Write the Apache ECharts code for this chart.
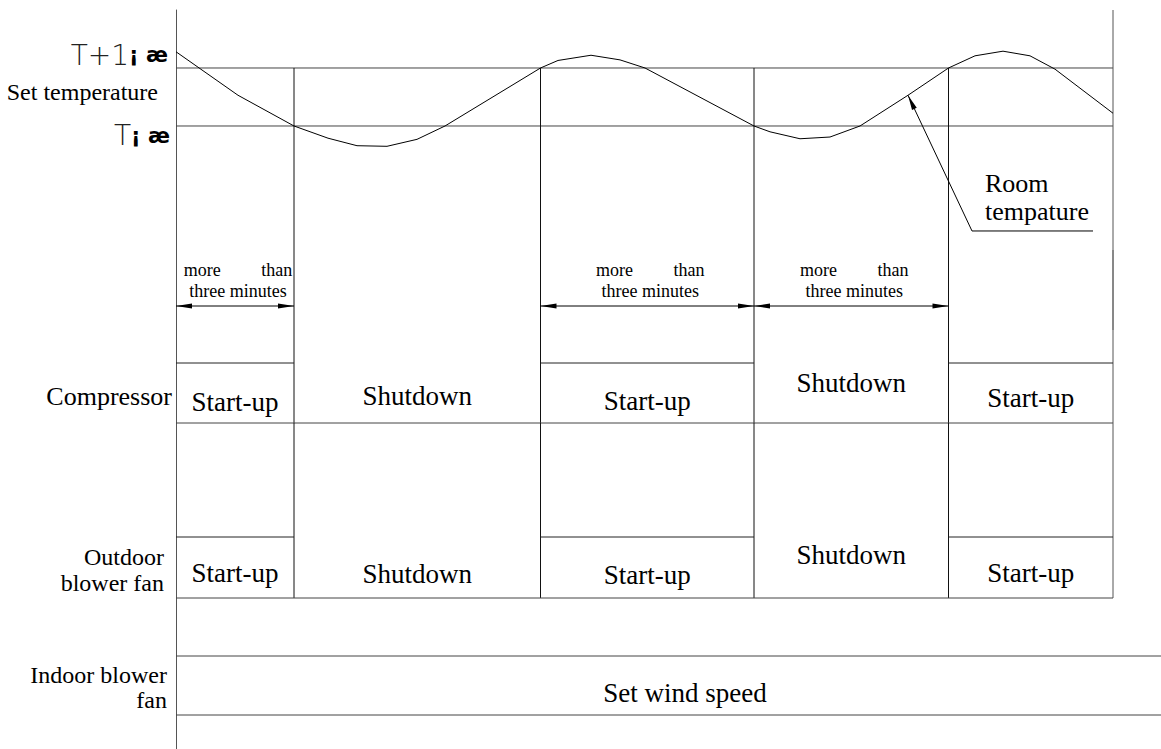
<!DOCTYPE html>
<html><head><meta charset="utf-8">
<script src="https://cdn.jsdelivr.net/npm/echarts@6/dist/echarts.min.js"></script>
<style>html,body{margin:0;padding:0;background:#fff}#c{width:1161px;height:749px}</style>
</head><body><div id="c"></div>
<script>
// ================= DATA =================
// phase boundaries on the time axis (arbitrary time units)
const timeBounds = [0, 11.8, 36.45, 57.8, 77.25, 93.7];
const timeMax = 98.5;
// states per phase: 1 = Start-up, 0 = Shutdown
const compressorState = [1, 0, 1, 0, 1];
const outdoorFanState = [1, 0, 1, 0, 1];
const stateText = ['Shutdown', 'Start-up'];
// temperature reference levels (offset from set temperature T, °C)
const tempLevels = [0, 1];
const tempLevelLabels = ['T', 'T+1'];
const tempUnitText = '¡ æ';
// room temperature curve (time, offset from T)
const roomTempTime  = [0, 6.2, 11.8, 15.2, 18.1, 21.1, 24.1, 26.9, 36.45, 38.2, 41.5, 44.4, 46.9, 57.8, 59.4, 62.4, 65.4, 68.4, 73.2, 77.25, 79.9, 82.7, 85.4, 87.9, 93.7];
const roomTempValue = [1.28, 0.53, 0, -0.21, -0.34, -0.35, -0.23, 0, 1, 1.13, 1.22, 1.14, 1.0, 0, -0.1, -0.22, -0.19, 0, 0.53, 1, 1.21, 1.29, 1.21, 0.98, 0.22];
// "more than three minutes" spans, as [from, to] indices into timeBounds
const delaySpans = [[0, 1], [2, 3], [3, 4]];
const delayWords = ['more', 'than', 'three minutes'];
const rowNames = ['Set temperature', 'Compressor', 'Outdoor\nblower fan', 'Indoor blower\nfan'];
const indoorText = 'Set wind speed';
const roomTempNote = 'Room\ntempature';

// ================= LAYOUT / STYLE =================
const SERIF = '"Liberation Serif", "Times New Roman", Times, serif';
const AXIS = '#555';
const grids = [
  {top: 10,  height: 240, min: -2.138, max: 2},     // temperature
  {top: 250, height: 80,  min: 0, max: 1},          // delay dimension row
  {top: 330, height: 93,  min: 0, max: 1.55},       // compressor
  {top: 423, height: 175, min: 0, max: 2.869},      // outdoor fan
  {top: 598, height: 151, min: -0.576, max: 1.983}  // indoor fan
];
const compLabelLevel = [0.35, 0.45, 0.367, 0.675, 0.425];
const outLabelLevel  = [0.41, 0.39, 0.377, 0.705, 0.418];
const noteAnchorIdx = 18, noteElbow = [79.6, -1.81], noteEnd = 91.7, noteTextPos = [80.9, -1.23];
const delayLevel = 0.3;

const endT = timeBounds[timeBounds.length - 1];
const inner = timeBounds.slice(1, -1);

function segSeries(g, segs, color, width) {
  return {type: 'custom', xAxisIndex: g, yAxisIndex: g, silent: true, clip: false, z: 3,
    data: segs, encode: {x: [0, 2], y: [1, 3]},
    renderItem(params, api) {
      const a = api.coord([api.value(0), api.value(1)]);
      const b = api.coord([api.value(2), api.value(3)]);
      return {type: 'line', shape: {x1: a[0], y1: a[1], x2: b[0], y2: b[1]},
        style: {stroke: color, lineWidth: width || 1}};
    }};
}
function textSeries(g, items) {
  return {type: 'custom', xAxisIndex: g, yAxisIndex: g, silent: true, clip: false, z: 4,
    data: items.map(it => it.at), encode: {x: 0, y: 1},
    renderItem(params, api) {
      const it = items[params.dataIndex];
      const p = api.coord([api.value(0), api.value(1)]);
      const off = it.offset || [0, 0];
      return {type: 'text', x: p[0] + off[0], y: p[1] + off[1],
        style: Object.assign({text: it.text, fill: '#000', fontFamily: SERIF, fontSize: 26,
          align: 'center', verticalAlign: 'middle'}, it.style || {})};
    }};
}
function arrowHead(tip, from, len, half) {
  const dx = tip[0] - from[0], dy = tip[1] - from[1];
  const L = Math.hypot(dx, dy) || 1, ux = dx / L, uy = dy / L;
  const bx = tip[0] - ux * len, by = tip[1] - uy * len;
  return {type: 'polygon', shape: {points: [tip, [bx - uy * half, by + ux * half], [bx + uy * half, by - ux * half]]},
    style: {fill: '#000'}};
}

const series = [];
// ---- G0 temperature ----
series.push(segSeries(0, tempLevels.map(v => [0, v, endT, v]), '#444'));
series.push(segSeries(0, inner.map(t => [t, 1, t, grids[0].min]), '#111'));
series.push(segSeries(0, [[endT, grids[0].max, endT, grids[0].min]], AXIS));
series.push({type: 'line', xAxisIndex: 0, yAxisIndex: 0, silent: true, symbol: 'none', z: 5,
  data: roomTempTime.map((t, i) => [t, roomTempValue[i]]),
  lineStyle: {color: '#000', width: 1}});
series.push({type: 'custom', xAxisIndex: 0, yAxisIndex: 0, silent: true, clip: false, z: 5,
  data: [[roomTempTime[noteAnchorIdx], roomTempValue[noteAnchorIdx], noteElbow[0], noteElbow[1], noteEnd]],
  encode: {x: [0, 2, 4], y: [1, 3]},
  renderItem(params, api) {
    const tip = api.coord([api.value(0), api.value(1)]);
    const elb = api.coord([api.value(2), api.value(3)]);
    const end = api.coord([api.value(4), api.value(3)]);
    return {type: 'group', children: [
      {type: 'polyline', shape: {points: [tip, elb, end]}, style: {stroke: '#000', lineWidth: 1, fill: null}},
      arrowHead(tip, elb, 15, 2.6)
    ]};
  }});
const tRich = {
  a: {fontFamily: '"DejaVu Sans"', fontWeight: 200, fontSize: 28, fill: '#222'},
  b: {fontFamily: '"DejaVu Sans"', fontWeight: 'bold', fontSize: 21, fill: '#000'}
};
series.push(textSeries(0, [
  {at: [0, 1.224], text: '{a|' + tempLevelLabels[1] + '}{b|' + tempUnitText + '}', offset: [-8, 0],
    style: {align: 'right', rich: tRich}},
  {at: [0, -0.172], text: '{a|' + tempLevelLabels[0] + '}{b|' + tempUnitText + '}', offset: [-6, 0],
    style: {align: 'right', rich: tRich}},
  {at: [0, 0.586], text: rowNames[0], offset: [-18, 0], style: {align: 'right', fontSize: 24}},
  {at: noteTextPos, text: roomTempNote, style: {align: 'left', fontSize: 26, lineHeight: 28}}
]));
// ---- G1 delay dimensions ----
series.push(segSeries(1, inner.concat([endT]).map(t => [t, 0, t, 1]), '#111'));
series.push({type: 'custom', xAxisIndex: 1, yAxisIndex: 1, silent: true, clip: false, z: 5,
  data: delaySpans.map(s => [timeBounds[s[0]], delayLevel, timeBounds[s[1]], delayLevel]),
  encode: {x: [0, 2], y: [1, 3]},
  renderItem(params, api) {
    const a = api.coord([api.value(0), api.value(1)]);
    const b = api.coord([api.value(2), api.value(3)]);
    const nb = '\u00a0'.repeat(9);
    return {type: 'group', children: [
      {type: 'line', shape: {x1: a[0], y1: a[1], x2: b[0], y2: b[1]}, style: {stroke: '#000', lineWidth: 1}},
      arrowHead(a, b, 16, 2.5), arrowHead(b, a, 16, 2.5),
      {type: 'text', x: (a[0] + b[0]) / 2 + 3, y: a[1] - 5,
        style: {text: delayWords[0] + nb + delayWords[1] + '\n' + delayWords[2], fontFamily: SERIF, fontSize: 18,
          lineHeight: 21, fill: '#000', align: 'center', verticalAlign: 'bottom'}}
    ]};
  }});
// ---- G2 compressor / G3 outdoor fan ----
function stateRow(g, states, lvl, name, nameAt, nameOff, nameStyle) {
  const top = grids[g].max;
  series.push(segSeries(g, inner.map(t => [t, 0, t, top]), '#111'));
  series.push(segSeries(g, [[endT, 0, endT, top]], AXIS));
  series.push(segSeries(g, [[0, 0, endT, 0]], '#444'));
  series.push(segSeries(g, states.map((s, i) => s ? [timeBounds[i], 1, timeBounds[i + 1], 1] : null).filter(Boolean), '#222'));
  series.push(textSeries(g, states.map((s, i) => ({
    at: [(timeBounds[i] + timeBounds[i + 1]) / 2, lvl[i]], text: stateText[s], style: {fontSize: 27}
  })).concat([{at: [0, nameAt], text: name, offset: nameOff, style: nameStyle}])));
}
stateRow(2, compressorState, compLabelLevel, rowNames[1], 0.45, [-4, 0], {align: 'right', fontSize: 26});
stateRow(3, outdoorFanState, outLabelLevel, rowNames[2], 0.459, [-12, 0], {align: 'right', fontSize: 24, lineHeight: 26});
// ---- G4 indoor fan ----
series.push(segSeries(4, [[0, 0, timeMax, 0], [0, 1, timeMax, 1]], '#444'));
series.push(textSeries(4, [
  {at: [50.9, 0.378], text: indoorText, style: {fontSize: 27}},
  {at: [0, 0.466], text: rowNames[3], offset: [-9, 0], style: {align: 'right', fontSize: 24, lineHeight: 25}}
]));

const option = {
  animation: false,
  backgroundColor: '#fff',
  textStyle: {fontFamily: SERIF},
  grid: grids.map(g => ({left: 176, right: 0, top: g.top, height: g.height, outerBoundsMode: 'none'})),
  xAxis: grids.map((g, i) => ({type: 'value', gridIndex: i, min: 0, max: timeMax, show: false})),
  yAxis: grids.map((g, i) => ({type: 'value', gridIndex: i, min: g.min, max: g.max,
    axisLine: {show: true, onZero: false, lineStyle: {color: AXIS, width: 1}},
    axisTick: {show: false}, axisLabel: {show: false}, splitLine: {show: false}})),
  series: series
};
const chart = echarts.init(document.getElementById('c'), null, {renderer: 'svg'});
chart.setOption(option);
</script>
</body></html>
